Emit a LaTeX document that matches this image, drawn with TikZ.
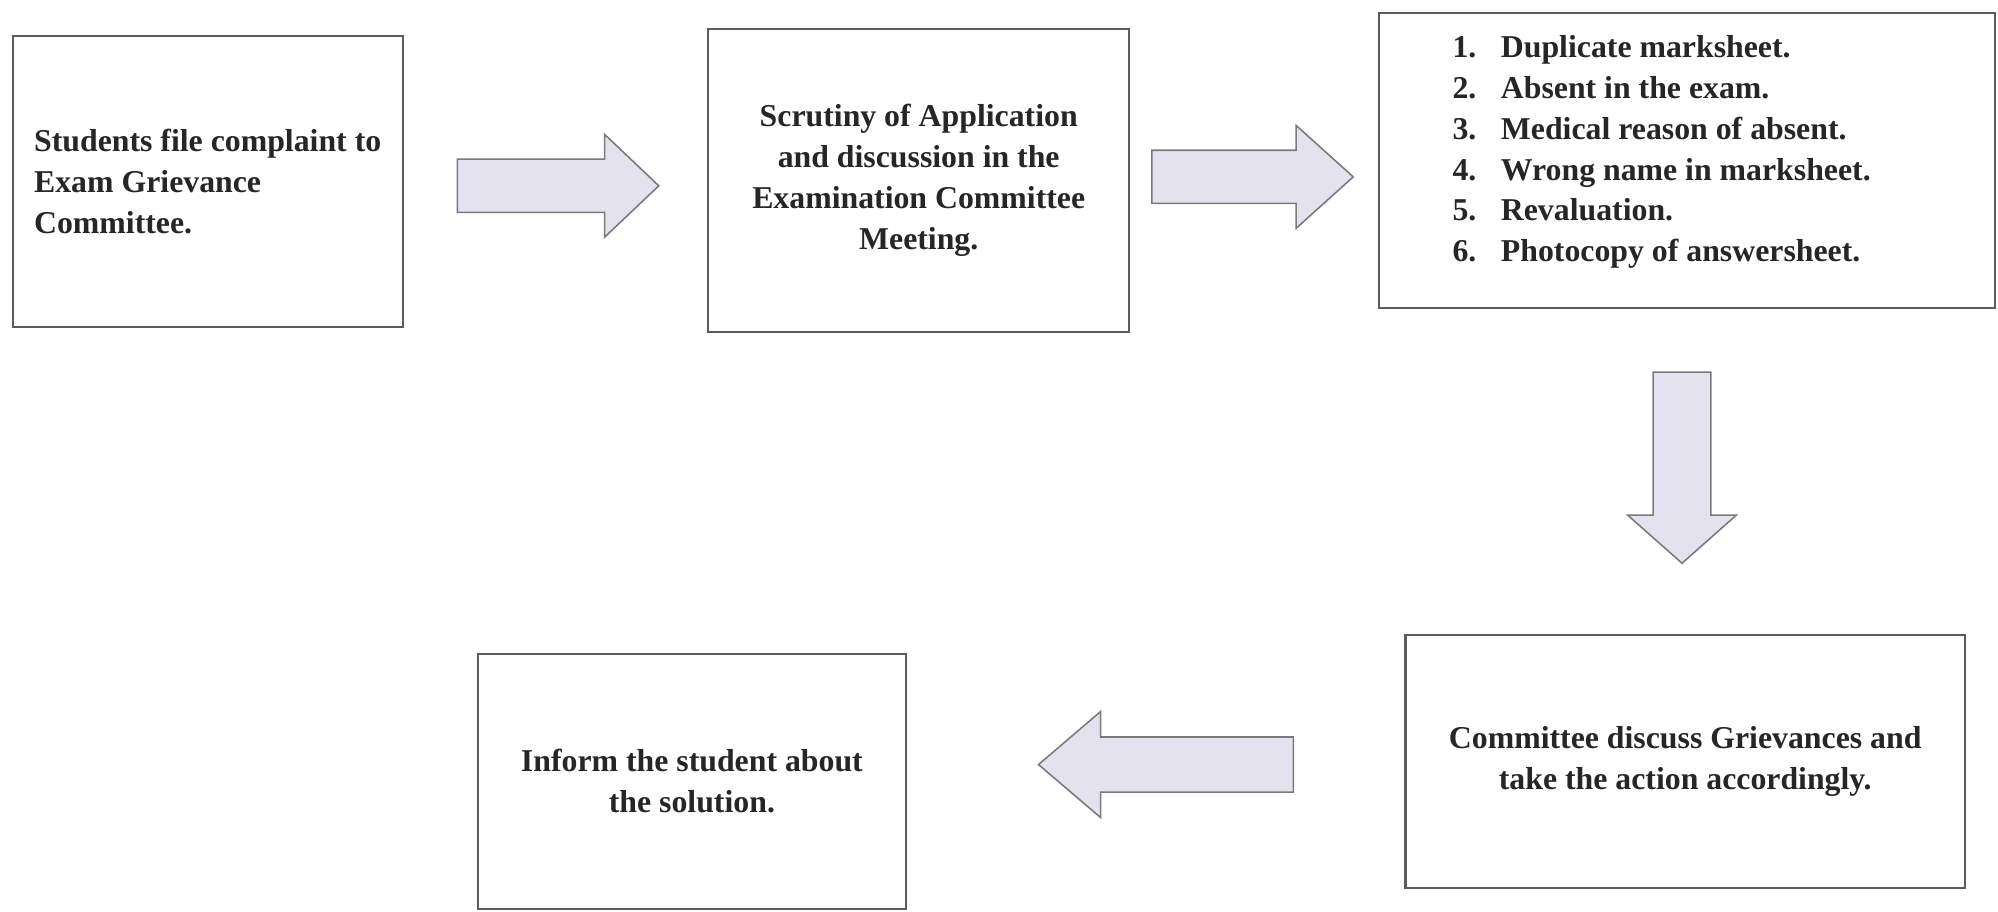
\documentclass[tikz,border=0pt]{standalone}
\usepackage{fontspec}
\setmainfont{Liberation Serif}
\usetikzlibrary{shapes.arrows}

\definecolor{boxline}{HTML}{5C5C5C}
\definecolor{arrowfill}{HTML}{E5E2F0}
\definecolor{arrowline}{HTML}{7A7A7A}
\definecolor{inktext}{HTML}{262626}

\begin{document}
\begin{tikzpicture}[x=0.2mm, y=-0.2mm,
        box/.style={draw=boxline, line width=0.9pt, inner sep=0pt, align=center,
            text=inktext, font=\fontsize{14.2}{18.2}\selectfont\bfseries},
        bigarrow/.style={single arrow, draw=arrowline, fill=arrowfill, line width=0.7pt,
            inner xsep=0pt, outer sep=0pt, minimum width=0pt, anchor=tip}]
    \useasboundingbox (0,0) rectangle (1568,715);

    \node[box, align=left, minimum width=61.2mm, minimum height=45.8mm] (complaint) at (163,142.5)
        {Students file complaint to\\Exam Grievance\\Committee.};
    \node[box, minimum width=66mm, minimum height=47.6mm] (scrutiny) at (721,141.5)
        {Scrutiny of Application\\and discussion in the\\Examination Committee\\Meeting.};
    \node[box, minimum width=96.8mm, minimum height=46.4mm] (cases) at (1324,126)
        {\begin{tabular}{@{}p{7.6mm}@{}l@{\hspace{8mm}}}
            1. & Duplicate marksheet.\\
            2. & Absent in the exam.\\
            3. & Medical reason of absent.\\
            4. & Wrong name in marksheet.\\
            5. & Revaluation.\\
            6. & Photocopy of answersheet.\\[2.8mm]
        \end{tabular}};
    \node[box, minimum width=87.8mm, minimum height=39.8mm] (action) at (1322.5,597.5)
        {Committee discuss Grievances and\\take the action accordingly.};
    \node[box, minimum width=67.2mm, minimum height=40mm] (inform) at (543,613)
        {Inform the student about\\the solution.};

    \node[bigarrow, minimum height=31.6mm, inner ysep=4.05mm,
        single arrow head extend=3.9mm, single arrow tip angle=87] (toscrutiny) at (517,145.8) {};
    \node[bigarrow, minimum height=31.6mm, inner ysep=4.05mm,
        single arrow head extend=3.9mm, single arrow tip angle=84] (tocases) at (1062,138.8) {};
    \node[bigarrow, shape border rotate=270, minimum height=30mm, inner xsep=4.4mm, inner ysep=0pt,
        single arrow head extend=4mm, single arrow tip angle=97] (toaction) at (1320,442) {};
    \node[bigarrow, shape border rotate=180, minimum height=40mm, inner ysep=4.2mm,
        single arrow head extend=4mm, single arrow tip angle=81] (toinform) at (815,600) {};
\end{tikzpicture}
\end{document}
